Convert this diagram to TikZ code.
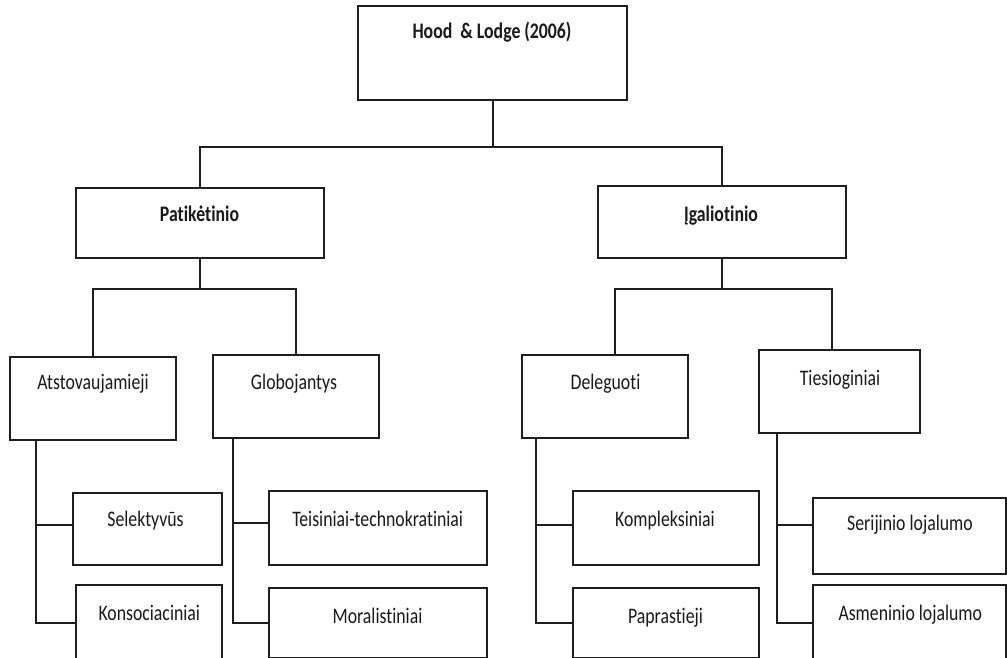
\documentclass[tikz,border=0pt]{standalone}
\usepackage{fontspec}
\setmainfont{Carlito}[FakeStretch=0.8, Ligatures=NoCommon]
\definecolor{linec}{HTML}{1E1E1E}
\definecolor{textc}{HTML}{1A1A1A}
\tikzset{
  box/.style={draw=linec, line width=2bp, rectangle, inner sep=0pt, anchor=north west, fill=white},
  lbl/.style={anchor=base, inner sep=0pt, font=\fontsize{22.2bp}{24bp}\selectfont, text=textc},
  blbl/.style={lbl, font=\fontsize{22.2bp}{24bp}\selectfont\bfseries},
  conn/.style={draw=linec, line width=2bp},
}
\begin{document}
\begin{tikzpicture}[x=1bp,y=-1bp]
\useasboundingbox (0,0) rectangle (1007,658);
\clip (0,0) rectangle (1007,658);
\fill[white] (0,0) rectangle (1007,658);
% boxes
\node[box, minimum width=269bp, minimum height=94bp] (top) at (357,5) {};
\node[box, minimum width=248bp, minimum height=70bp] (pat) at (75,187) {};
\node[box, minimum width=248bp, minimum height=72bp] (ig) at (597,185) {};
\node[box, minimum width=166bp, minimum height=83bp] (atst) at (9,356) {};
\node[box, minimum width=166bp, minimum height=83bp] (glob) at (212,354) {};
\node[box, minimum width=166bp, minimum height=83bp] (del) at (521,354) {};
\node[box, minimum width=161bp, minimum height=83bp] (ties) at (758,349) {};
\node[box, minimum width=149bp, minimum height=72bp] (sel) at (72,492) {};
\node[box, minimum width=146bp, minimum height=76bp] (kons) at (75,584) {};
\node[box, minimum width=218bp, minimum height=74bp] (teis) at (268,490) {};
\node[box, minimum width=218bp, minimum height=70bp] (mor) at (268,587) {};
\node[box, minimum width=186bp, minimum height=74bp] (komp) at (572,490) {};
\node[box, minimum width=186bp, minimum height=70bp] (pap) at (572,587) {};
\node[box, minimum width=193bp, minimum height=76bp] (ser) at (812,497) {};
\node[box, minimum width=193bp, minimum height=76bp] (asm) at (812,584) {};
% labels
\node[blbl] (ttop) at (492,39) {Hood\ \ \& Lodge (2006)};
\node[blbl] (tpat) at (199.5,221.5) {Patikėtinio};
\node[blbl] (tig) at (721,221) {Įgaliotinio};
\node[lbl] (tatst) at (93,389) {Atstovaujamieji};
\node[lbl] (tglob) at (294,389) {Globojantys};
\node[lbl] (tdel) at (605.5,389) {Deleguoti};
\node[lbl] (tties) at (840,385) {Tiesioginiai};
\node[lbl] (tsel) at (145.5,526.5) {Selektyvūs};
\node[lbl] (tkons) at (149.3,620.5) {Konsociaciniai};
\node[lbl] (tteis) at (377.7,526.5) {Teisiniai-technokratiniai};
\node[lbl] (tmor) at (377.5,623) {Moralistiniai};
\node[lbl] (tkomp) at (665,526.5) {Kompleksiniai};
\node[lbl] (tpap) at (665.5,623) {Paprastieji};
\node[lbl] (tser) at (910,530.5) {Serijinio lojalumo};
\node[lbl] (tasm) at (910.3,620) {Asmeninio lojalumo};
% connectors
\coordinate (h1) at (493,147);
\coordinate (h2) at (0,289);
\draw[conn] (top.south) -- (top.south |- h1);
\draw[conn] (pat.north) |- (ig.north |- h1) -- (ig.north);
\draw[conn] (pat.south) -- (pat.south |- h2);
\draw[conn] (atst.north) |- (glob.north |- h2) -- (glob.north);
\draw[conn] (ig.south) -- (ig.south |- h2);
\coordinate (dT) at ([xshift=10bp]del.north);
\coordinate (tT) at ([xshift=-7.5bp]ties.north);
\draw[conn] (dT) |- (tT |- h2) -- (tT);
\coordinate (aB) at ([xshift=27bp]atst.south west);
\draw[conn] (aB) |- ([yshift=4bp]sel.west);
\draw[conn] (aB) |- (kons.west);
\coordinate (gB) at ([xshift=21bp]glob.south west);
\draw[conn] (gB) |- ([yshift=5bp]teis.west);
\draw[conn] (gB) |- (mor.west);
\coordinate (dB) at ([xshift=15bp]del.south west);
\draw[conn] (dB) |- ([yshift=3bp]komp.west);
\draw[conn] (dB) |- (pap.west);
\coordinate (tB) at ([xshift=19bp]ties.south west);
\draw[conn] (tB) |- ([yshift=11bp]ser.west);
\draw[conn] (tB) |- (asm.west);
\end{tikzpicture}
\end{document}
